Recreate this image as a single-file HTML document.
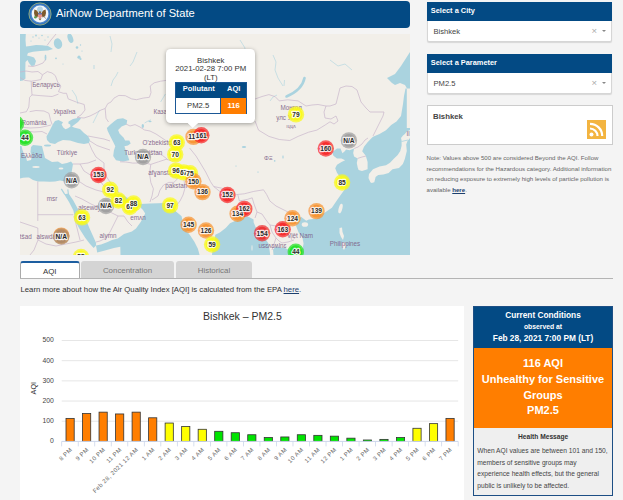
<!DOCTYPE html>
<html><head><meta charset="utf-8">
<style>
*{box-sizing:border-box;margin:0;padding:0}
html,body{width:623px;height:500px;overflow:hidden}
body{background:#f4f4f4;position:relative;font-family:"Liberation Sans",sans-serif;color:#333}
.abs{position:absolute}
#hdr{left:20px;top:1px;width:390px;height:27px;background:#034a84;border-radius:4px}
#hdr .t{position:absolute;left:36px;top:5.5px;font-size:11.15px;color:#fff;white-space:nowrap;line-height:13px}
#map{left:20px;top:34px;width:390px;height:221px;overflow:hidden;background:#f2efe9}
.sel{left:427px;width:185px;background:#fff;border:1px solid #d6d6d6;border-radius:2px;box-shadow:0 1px 1px rgba(0,0,0,.12)}
.sel .h{background:#034a84;color:#fff;font-weight:bold;font-size:7.4px;height:19px;line-height:18px;padding-left:3.8px;white-space:nowrap;margin:-1px -1px 0 -1px}
.sel .v{font-size:7.6px;color:#444;height:20px;line-height:21px;padding-left:5.5px;position:relative;white-space:nowrap}
.sel .x{position:absolute;right:14px;top:-1px;color:#aaa;font-size:9.5px}
.sel .ar{position:absolute;right:5.5px;top:9px;width:0;height:0;border-left:2.3px solid transparent;border-right:2.3px solid transparent;border-top:2.3px solid #888}
#rss{left:427px;top:105px;width:186px;height:40px;background:#fff;border:1px solid #ccc}
#note{left:426.5px;top:153px;width:190px;font-size:6.1px;line-height:10.7px;color:#666;}
#note b{color:#1c3f6e;text-decoration:underline}
.tab{top:261px;height:17px;font-size:7.9px;line-height:20.5px;text-align:center;color:#777;background:#d4d4d4;border-radius:3px 3px 0 0}
#learn{left:20.5px;top:284.8px;font-size:7.75px;color:#333;white-space:nowrap;line-height:10px}
#learn u{color:#1c3f6e}
#chart{left:20px;top:306px;width:444px;height:194px;background:#fff}
#cc{left:473px;top:306px;width:140px;height:190px;border:1px solid #1d4f85;background:#efefef}
#cc .h{background:#034a84;color:#fff;text-align:center;font-weight:bold;height:41px}
#cc .o{background:#ff7e00;color:#fff;text-align:center;font-weight:bold;font-size:11px;line-height:15.8px;height:80px;padding-top:8px}
#cc .hm{font-size:6.65px;color:#444;line-height:11.7px;padding:3px 3px 0 3.3px}
#cc .hm div{margin-bottom:2.2px}
</style></head><body>

<div class="abs" id="hdr">
<svg class="abs" style="left:7.5px;top:1.4px" width="24" height="24" viewBox="-12 -12 24 24">
<circle r="11.1" fill="#3573bd" stroke="#aab873" stroke-width="0.8"/>
<circle r="9.6" fill="#4c88cc"/>
<circle r="8.4" fill="#f4f6f8"/>
<circle cx="0" cy="-4.6" r="2.9" fill="#b3d2e4"/>
<path d="M-1.2,-0.8 L-3.2,-3.6 L-5.6,-4.4 L-6,-1 L-5.2,2.2 L-2.6,3.6 Z" fill="#7d5a2c"/>
<path d="M1.2,-0.8 L3.2,-3.6 L5.6,-4.4 L6,-1 L5.2,2.2 L2.6,3.6 Z" fill="#7d5a2c"/>
<path d="M-1.9,-0.6 h3.8 v2.8 c0,1.3 -1.9,2.2 -1.9,2.2 c0,0 -1.9,-0.9 -1.9,-2.2 Z" fill="#e58b84"/>
<rect x="-1.9" y="-0.8" width="3.8" height="1.2" fill="#4565ad"/>
<circle cx="0" cy="-1.8" r="0.9" fill="#6b4a22"/>
<path d="M-1.6,4.5 L1.6,4.5 L0,6.6 Z" fill="#7d5a2c"/>
<circle cx="-4.6" cy="3.2" r="1.3" fill="#5f9c4f"/>
<path d="M3.6,2.6 L6,4.6" stroke="#8c8c8c" stroke-width="0.8"/>
</svg>
<div class="t">AirNow Department of State</div>
</div>

<div class="abs" id="map"><svg class="abs" style="left:0;top:0" width="390" height="221" viewBox="20 34 390 221">
<rect x="20" y="34" width="390" height="221" fill="#f2efe9"/>
<path d="M20,34 L25.8,34 L25.5,40 L26,46.5 L30,46 L36,45 L42,45.3 L48,46 L53,49 L48,50.5 L40,51 L33,51.8 L28,53 L27,55.5 L31,56.5 L34,57.5 L36,61 L34.5,65.5 L31.5,66 L29,63 L27.5,60 L25.5,62 L25.3,70 L25.5,78.5 L23,80.5 L20,81 Z" fill="#aad3df" />
<ellipse cx="58" cy="43.6" rx="4.1" ry="5.4" fill="#aad3df" transform="rotate(-15 58 43.6)"/>
<ellipse cx="70.4" cy="38.3" rx="2.6" ry="4.8" fill="#aad3df" transform="rotate(-20 70.4 38.3)"/>
<ellipse cx="45.5" cy="57.5" rx="0.9" ry="3" fill="#aad3df"/>
<circle cx="77" cy="47.5" r="1.3" fill="#aad3df"/>
<circle cx="79" cy="57.2" r="1.6" fill="#aad3df"/>
<circle cx="80.5" cy="59" r="1.1" fill="#aad3df"/>
<circle cx="56" cy="58.3" r="0.9" fill="#aad3df"/>
<circle cx="80.5" cy="45" r="0.7" fill="#aad3df"/>
<circle cx="82" cy="51" r="0.6" fill="#aad3df"/>
<circle cx="33" cy="37" r="0.7" fill="#aad3df"/>
<circle cx="36" cy="35.5" r="0.9" fill="#aad3df"/>
<circle cx="39" cy="38" r="0.6" fill="#aad3df"/>
<circle cx="42" cy="35.5" r="0.8" fill="#aad3df"/>
<circle cx="45" cy="40" r="0.6" fill="#aad3df"/>
<circle cx="48" cy="37" r="0.7" fill="#aad3df"/>
<circle cx="31" cy="41" r="0.6" fill="#aad3df"/>
<circle cx="94" cy="66" r="0.7" fill="#aad3df"/>
<circle cx="94" cy="68" r="0.7" fill="#aad3df"/>
<circle cx="63" cy="64" r="0.5" fill="#aad3df"/>
<path d="M55,121 L58.5,120 L61,121.3 L63,122.2 L61.6,124.5 L63.3,127.5 L65.5,129.2 L68,128.2 L70.5,126.6 L70.2,124.6 L68.3,123.6 L68.6,121.6 L73,119 L80,117.5 L81,118.5 L78,122 L74,125 L72,126.6 L74,127.5 L80,129 L84,133 L88,136 L90,140 L89,143 L84,144 L78,143 L70,140.5 L63,140 L58,142 L55,144 L50,143 L47,140 L46.5,136.5 L49,132 L51,128 L53,124 Z" fill="#aad3df" />
<path d="M117.4,118.9 L123,118.2 L127.2,120.3 L126.5,124.5 L121.6,126.6 L118.1,130.1 L119.5,133.6 L123.7,137.8 L125.1,140.6 L129.3,140.6 L130.7,143.4 L127.9,145.5 L124.4,146.2 L125.8,150.4 L127.9,156 L129.3,160.2 L123,161.6 L116,160.2 L113.2,156 L113.9,150.4 L115.3,146.2 L113.2,142 L110.4,136.4 L107.6,130.8 L106.9,128 L110.4,124.5 L114.6,121 Z" fill="#aad3df" />
<ellipse cx="47.5" cy="145.5" rx="3.5" ry="1.1" fill="#aad3df"/>
<path d="M20,146 L21.5,146 L22.5,150 L24,154 L26,157 L27,161 L31,160 L32,156 L30.5,152 L31,147 L33,145 L38,145.5 L42,146 L43,150 L45,158 L52,162 L58,161.5 L62,164 L67,163 L71,161.5 L73,164 L72,170 L71,176 L68,181 L65,181.5 L60,180.5 L55,181.5 L50,181.8 L44,181.5 L38,181.5 L33,179.9 L29,177.5 L26.5,177.4 L23,177.7 L20,178.5 Z" fill="#aad3df" />
<path d="M64.2,194.2 L68.6,193.6 L73,200 L77.5,208.2 L81,213.5 L84.8,218.7 L87.5,223.5 L89.6,228.4 L93,236 L96.1,243 L96,245.5 L93.7,247.9 L90,244 L88,241.4 L85,237.5 L82.3,233.3 L79,228 L76.7,223.6 L74.5,216 L73.4,210.6 L69,202 Z" fill="#aad3df" />
<path d="M61.3,188.8 L64.8,194.5" stroke="#aad3df" stroke-width="1.3" fill="none"/>
<path d="M67.8,189.4 L68.4,194" stroke="#aad3df" stroke-width="1.1" fill="none"/>
<path d="M117,194.5 L121,194 L126,197 L131,200 L136,202.5 L139.5,204 L140,206.5 L136,207.5 L131,207 L126,204.5 L121,200 Z" fill="#aad3df" />
<path d="M139.5,204 L145,203.8 L150,203.5 L158,203.2 L165.4,202.9 L170,205 L174,207.5 L176,211.6 L179,214 L181.6,216.2 L183.9,227.9 L189.7,234.8 L194.4,241.8 L197.9,248.7 L199.6,255 L120.5,255 L120.3,246.8 L113.9,248.1 L105,250.5 L97.2,252.6 L96,245.5 L101,244.5 L107,242.2 L112,240 L117.8,238.5 L124,234 L131.9,231.4 L136,228.5 L140.7,222 L145.2,213.5 L143,210 L141,208 Z" fill="#aad3df" />
<path d="M212,255 L212.5,250 L214,243 L215.3,234.8 L219.9,232.5 L225.7,227.9 L230,223.2 L236,220.5 L241,219 L245,216.6 L249,217 L253.6,219.5 L253.6,222.3 L256,228 L257.9,233.9 L261,236 L265.1,238.2 L268.8,244 L270.2,255 Z" fill="#aad3df" />
<path d="M273.5,255 L273,249.5 L276,246.5 L280,247.5 L285,248 L289,250 L292,252.5 L294,255 Z" fill="#aad3df" />
<path d="M298.5,255 L298.5,251.5 L302.4,248.9 L303.6,243.8 L302.4,237.4 L298.5,232.2 L296,225.8 L297.2,220.7 L301,216.8 L306.2,220.7 L308.8,219.4 L316.5,218.7 L324.2,213 L331.9,207.8 L338,198.8 L344.8,189.3 L346,184 L342,181 L340,177 L337,172.8 L335.2,168.3 L337,164.7 L341.5,162 L345.1,160.2 L341.5,158.4 L337,158.4 L333.4,155.7 L332.5,153 L333.4,151.2 L337,148.5 L340.6,148.5 L341.5,151 L342.5,153.2 L345,151 L346,149.4 L349.6,150.3 L354.1,148.5 L353.2,153 L354.1,156.6 L357.7,158.4 L356.8,162.9 L357.7,167.4 L358.6,170.1 L362,171 L367.6,169.2 L367.6,162 L365.8,155.7 L362.2,151.2 L364,146.7 L367.6,142.2 L371.2,138.6 L373,136.7 L379.5,134.1 L386,130.2 L391.2,125 L396.5,121.6 L401,116 L403,104 L404,96 L405.5,88.5 L406.8,88.5 L406.8,128 L410,128 L410,255 Z" fill="#aad3df" />
<path d="M410,52 L401,66 L395,74 L387,78 L389,80 L392,83 L395,85 L400,83 L405,85 L407,88.5 L410,88.5 Z" fill="#aad3df" />
<path d="M304.5,78 C303,86 297,92 286.5,96.5" stroke="#aad3df" stroke-width="2.6" fill="none" stroke-linecap="round"/>
<ellipse cx="142.8" cy="126" rx="1.2" ry="2" fill="#aad3df"/>
<ellipse cx="150" cy="121.5" rx="1.6" ry="0.8" fill="#aad3df"/>
<ellipse cx="193" cy="120" rx="1.2" ry="0.6" fill="#aad3df"/>
<ellipse cx="236" cy="87" rx="0.6" ry="1.5" fill="#aad3df"/>
<ellipse cx="239" cy="75" rx="1.2" ry="0.6" fill="#aad3df"/>
<ellipse cx="237.5" cy="80" rx="0.5" ry="1.4" fill="#aad3df"/>
<ellipse cx="283" cy="157" rx="0.6" ry="1.8" fill="#aad3df"/>
<path d="M118,72 L116,76 L113,80 L111,86" stroke="#aad3df" stroke-width="0.7" fill="none" opacity="0.85"/>
<path d="M137,52 L135,57 L133,62 L130,66" stroke="#aad3df" stroke-width="0.7" fill="none" opacity="0.85"/>
<path d="M99.6,110 L97,115 L95,119 L93,123" stroke="#aad3df" stroke-width="0.7" fill="none" opacity="0.85"/>
<path d="M165.4,94 L163,98 L160.6,102" stroke="#aad3df" stroke-width="0.7" fill="none" opacity="0.85"/>
<path d="M144.6,123 L148,121 L151,119.8" stroke="#aad3df" stroke-width="0.7" fill="none" opacity="0.85"/>
<path d="M284.5,80 L284,86" stroke="#aad3df" stroke-width="0.7" fill="none" opacity="0.85"/>
<path d="M270,101 L273,97 L277,95" stroke="#aad3df" stroke-width="0.7" fill="none" opacity="0.85"/>
<path d="M273,55 L276,62 L275,70 L278,78 L283,86" stroke="#aad3df" stroke-width="0.7" fill="none" opacity="0.85"/>
<path d="M110,36 L112,44 L111,52" stroke="#aad3df" stroke-width="0.7" fill="none" opacity="0.85"/>
<path d="M240,40 L245,48 L243,58 L246,66" stroke="#aad3df" stroke-width="0.7" fill="none" opacity="0.85"/>
<path d="M200,60 L205,68 L203,76" stroke="#aad3df" stroke-width="0.7" fill="none" opacity="0.85"/>
<path d="M330,60 L338,66 L345,64 L352,70" stroke="#aad3df" stroke-width="0.7" fill="none" opacity="0.85"/>
<path d="M72,90 L76,96 L78,104" stroke="#aad3df" stroke-width="0.7" fill="none" opacity="0.85"/>
<ellipse cx="244" cy="147" rx="2.2" ry="0.9" fill="#aad3df"/>
<ellipse cx="274.7" cy="160.9" rx="0.8" ry="0.8" fill="#aad3df"/>
<ellipse cx="258" cy="172" rx="0.8" ry="0.5" fill="#aad3df"/>
<ellipse cx="236" cy="166" rx="0.7" ry="0.5" fill="#aad3df"/>
<ellipse cx="36" cy="167" rx="3.6" ry="0.9" fill="#f2efe9"/>
<ellipse cx="61" cy="168.5" rx="2.4" ry="0.9" fill="#f2efe9"/>
<path d="M370.4,182.2 L368.5,178 L369,174 L373,169.2 L379.5,166.6 L386,165.3 L390,162.7 L393.8,158.8 L397.7,154.9 L400.3,151 L401.6,145.8 L401.6,140.6 L401,138 L403,135.4 L404.9,134.1 L406.8,131.5 L410,130 L410,138 L407.5,141 L406.2,144.5 L406.8,151 L404.9,158.8 L402.9,164 L399,167.9 L392.5,169.2 L388.6,173.1 L383.4,174.4 L378.2,175 L375.6,177 L374.3,182.2 L371.7,182.9 Z" fill="#f2efe9" />
<path d="M401.5,141.5 L408,140" stroke="#aad3df" stroke-width="0.8"/>
<ellipse cx="340.5" cy="208.5" rx="1.8" ry="5" fill="#f2efe9" transform="rotate(15 340.5 208.5)"/>
<ellipse cx="304.9" cy="224.5" rx="3.2" ry="2.3" fill="#f2efe9"/>
<path d="M339.5,228 L342,227.5 L342.5,232 L344,236 L343,240 L341,237 L339.5,233 Z" fill="#f2efe9" />
<path d="M342,243 L345,242 L346,246 L344,250 L342,247 Z" fill="#f2efe9" />
<ellipse cx="252" cy="248" rx="0.5" ry="3" fill="#f2efe9"/>
<g stroke="#c9b6cc" stroke-width="0.7" fill="none" stroke-linejoin="round">
<path d="M56,34 L51,40 L47,45.5"/>
<path d="M20,72 L26,71 L32,72 L38,71.5 L42.5,74.8"/>
<path d="M45.5,59.5 L43,63 L38,65 L33,66.5 L28,66"/>
<path d="M20,77.5 L24.8,80.4 L31.2,81.2"/>
<path d="M31.2,81.2 L36,80.5 L40.9,79.6 L42.5,74.8 L47.3,71.6 L52,73 L55.3,75.6 L57.7,82 L60.9,86 L58.5,91.7 L63.3,93.3 L66.5,93.3"/>
<path d="M31.2,81.2 L31.5,88 L32,94.9 L40.9,95.7 L52.1,96.5 L58.5,94.1"/>
<path d="M66.5,93.3 L68.2,98.9 L76.2,102 L84.2,104.5 L85,110 L81,115 L77,117.4"/>
<path d="M32,94.9 L29.6,97.3 L28.8,107 L26.4,111.7 L20,113"/>
<path d="M29.6,111.7 L36,110.5 L44,111 L48.9,113.3 L50.5,119.8 L52.1,124.6"/>
<path d="M20,127 L30,128 L40,127.5 L47,126 L51,125"/>
<path d="M20,133 L26,131 L34,132 L42,131.5 L47,134"/>
<path d="M77,117.4 L84,118 L90,116 L96,113 L101,110 L105.2,108.5 L107.7,103.7 L110.9,102.1 L114,98.1 L118.9,95.4 L125.3,95.7 L131.7,98.9 L136.5,99.7 L143,98.1 L149.4,97.3 L151,92.5 L150.2,86 L154.2,82.8 L160.6,81.2 L166,80.4"/>
<path d="M105.2,108.5 L106,118.2 L108.5,122"/>
<path d="M255,99 L262,96.5 L268.9,94.6 L275.2,96.7 L279.3,100.9 L287.7,99.8 L298.1,100.9 L306,106 L312,105 L318,104.5 L326,106"/>
<path d="M326,106 L330,106 L336,104 L338,96 L340,88 L346,86 L352,86.5 L357,90 L359,96 L361,102 L366,108 L370,112 L377,112 L384,112 L383,116 L381,120 L378,126 L376,130 L373,136"/>
<path d="M326,106 L324,112 L325,118 L331,119 L336,116 L338,121 L334,124"/>
<path d="M255,121 L258.5,130.1 L268.9,136.4 L279.3,139.5 L289.8,140.5 L298.1,136.4 L308.6,132.2 L316.9,130.1 L325.3,124.9 L330,121.8 L334,124"/>
<path d="M88,136 L96,137.5 L104,139 L110,141"/>
<path d="M90,141 L97,145.5 L104,148 L110,150"/>
<path d="M89,143 L92,150 L96,157 L100,160 L104,163"/>
<path d="M73,164 L80,164 L88,163 L96,160"/>
<path d="M80,164 L84,171 L92,176 L100,181 L104,186 L110,190 L116,193"/>
<path d="M104,163 L104,170 L106,176 L110,182 L116,188 L119,193"/>
<path d="M71,176 L77,180 L86,186 L96,190 L104,192 L112,195"/>
<path d="M126,124 L130,126 L135,124.6 L140,127 L144.6,130 L150,131 L156,134"/>
<path d="M120,161.8 L126,162 L132.8,163.1 L138,163 L143.1,162.5 L150.8,164.4"/>
<path d="M150.8,164.4 L149.5,173.4 L150.8,182.4 L153.4,188.8 L152,196 L150,202"/>
<path d="M150.8,150.3 L156,152 L162.4,155.4 L167.5,159.3"/>
<path d="M150.8,164.4 L158.5,161.8 L166.2,159.3 L171.3,160.5"/>
<path d="M171.3,176 L177.8,178.5 L173.9,182.4 L168.8,182.4 L163.6,185 L160,190 L158,196 L152,200"/>
<path d="M156,134 L162,138 L168,142 L172,140"/>
<path d="M189.6,148 L196,156 L200.9,164 L205.7,172 L210.5,181.7 L213.7,186.5 L221.7,188.2 L231.4,191.4 L236.2,194.6 L244.2,193.8 L253.8,191.4 L263.5,189.8 L266.7,194.6 L269.9,201"/>
<path d="M213.7,186.5 L221.7,193 L236.2,196.2"/>
<path d="M237.8,194.6 L239.4,201 L247.4,199.4 L252.2,197.8"/>
<path d="M184,180 L185,188 L183,195 L180,201 L176,206"/>
<path d="M252.2,197.8 L254,204 L257,212 L255,218"/>
<path d="M257,212 L262,214 L266,220 L270,225 L272,232 L276,238 L279,241 L282,243 L288,242 L294,240"/>
<path d="M269.9,201 L276,206 L282,209 L288,212 L294,216 L298,219"/>
<path d="M270,225 L276,226 L282,228 L286,232 L290,236 L292,240"/>
<path d="M276,238 L274,244 L272,250"/>
<path d="M354.1,148.5 L358,147 L362,144 L365,140 L368,138"/>
<path d="M357.7,158.4 L362,157 L366,156"/>
<path d="M37.8,181.5 L37.8,221"/>
<path d="M37.8,214.7 L73.4,214.7"/>
<path d="M20,222 L37.8,228 L38,240 L34,250 L30,255"/>
<path d="M38,240 L46,244 L56,246 L66,244 L76,242 L84,240"/>
<path d="M74,216 L76,224 L78,232 L80,240"/>
<path d="M75,196 L82,199 L91,204 L100,208 L110,212"/>
<path d="M110,212 L118,216 L124,216 L128,222 L132,226"/>
<path d="M118,216 L114,224 L110,232 L106,238 L100,241 L96,242"/>
</g>
<g fill="#7d5f87" font-family="Liberation Sans" text-anchor="middle" opacity="0.9">
<text x="46" y="87" font-size="6.3" text-anchor="middle">Беларусь</text>
<text x="64.5" y="113.5" font-size="6.3" text-anchor="middle">Україна</text>
<text x="34" y="124.5" font-size="6.3" text-anchor="middle">România</text>
<text x="31.5" y="157.5" font-size="6.3" text-anchor="middle">Ελλάδα</text>
<text x="67" y="154.5" font-size="6.3" text-anchor="middle">Türkiye</text>
<text x="52" y="200.5" font-size="6.3" text-anchor="middle">msr</text>
<text x="48" y="239" font-size="6.3" text-anchor="middle">alswdan</text>
<text x="25.7" y="239" font-size="6.3" text-anchor="middle">tšad</text>
<text x="91.3" y="210" font-size="6.3" text-anchor="middle">alsewdyh</text>
<text x="108" y="237.5" font-size="6.3" text-anchor="middle">alymn</text>
<text x="138" y="219.5" font-size="6.3" text-anchor="middle">emʌn</text>
<text x="143.2" y="154.8" font-size="6.3" text-anchor="middle">Turkmenistan</text>
<text x="142.5" y="144.6" font-size="6.3" text-anchor="start">O'zbekiston</text>
<text x="153.5" y="113.6" font-size="6.3" text-anchor="start">Казахстан</text>
<text x="176.2" y="187.6" font-size="6.3" text-anchor="middle">pakstan</text>
<text x="162" y="175.4" font-size="6.3" text-anchor="middle">afɣanstan</text>
<text x="268.3" y="159.8" font-size="6" text-anchor="middle">ΦΞ</text>
<text x="280.4" y="110.2" font-size="6.3" text-anchor="start">Монгол</text>
<text x="276.2" y="120.2" font-size="6.3" text-anchor="start">улс Улс</text>
<text x="291" y="128" font-size="5" text-anchor="middle">ıɥɥʌ</text>
<text x="300" y="238" font-size="6.3" text-anchor="middle">Việt Nam</text>
<text x="272.5" y="247.5" font-size="6.3" text-anchor="middle">usɛʌɛʍlnɛ</text>
<text x="345" y="246" font-size="6.3" text-anchor="middle">Philippines</text>
<text x="408" y="136" font-size="6.3" text-anchor="middle">Il</text>
</g>
<circle cx="16" cy="124" r="8.2" fill="#1ee21e" fill-opacity="0.7"/>
<circle cx="16" cy="124" r="6.4" fill="#1ee21e" fill-opacity="0.8"/>
<circle cx="25" cy="137.7" r="8.2" fill="#1ee21e" fill-opacity="0.7"/>
<circle cx="25" cy="137.7" r="6.4" fill="#1ee21e" fill-opacity="0.8"/>
<circle cx="71.6" cy="180.3" r="8.2" fill="#9c9c9c" fill-opacity="0.7"/>
<circle cx="71.6" cy="180.3" r="6.4" fill="#9c9c9c" fill-opacity="0.8"/>
<circle cx="98.5" cy="175" r="8.2" fill="#f82222" fill-opacity="0.7"/>
<circle cx="98.5" cy="175" r="6.4" fill="#f82222" fill-opacity="0.8"/>
<circle cx="110.2" cy="189.8" r="8.2" fill="#fbfb10" fill-opacity="0.7"/>
<circle cx="110.2" cy="189.8" r="6.4" fill="#fbfb10" fill-opacity="0.8"/>
<circle cx="106" cy="206" r="8.2" fill="#9c9c9c" fill-opacity="0.7"/>
<circle cx="106" cy="206" r="6.4" fill="#9c9c9c" fill-opacity="0.8"/>
<circle cx="118.5" cy="200.5" r="8.2" fill="#fbfb10" fill-opacity="0.7"/>
<circle cx="118.5" cy="200.5" r="6.4" fill="#fbfb10" fill-opacity="0.8"/>
<circle cx="82" cy="217.4" r="8.2" fill="#fbfb10" fill-opacity="0.7"/>
<circle cx="82" cy="217.4" r="6.4" fill="#fbfb10" fill-opacity="0.8"/>
<circle cx="61.3" cy="235.6" r="8.2" fill="#f8912c" fill-opacity="0.7"/>
<circle cx="61.3" cy="235.6" r="6.4" fill="#f8912c" fill-opacity="0.8"/>
<circle cx="61.3" cy="236.5" r="8.2" fill="#ad8a6a" fill-opacity="0.7"/>
<circle cx="61.3" cy="236.5" r="6.4" fill="#ad8a6a" fill-opacity="0.8"/>
<circle cx="81" cy="257" r="8.2" fill="#fbfb10" fill-opacity="0.7"/>
<circle cx="81" cy="257" r="6.4" fill="#fbfb10" fill-opacity="0.8"/>
<circle cx="129.8" cy="207" r="8.2" fill="#fbfb10" fill-opacity="0.7"/>
<circle cx="129.8" cy="207" r="6.4" fill="#fbfb10" fill-opacity="0.8"/>
<circle cx="133.6" cy="203.5" r="8.2" fill="#fbfb10" fill-opacity="0.7"/>
<circle cx="133.6" cy="203.5" r="6.4" fill="#fbfb10" fill-opacity="0.8"/>
<circle cx="143" cy="157" r="8.2" fill="#9c9c9c" fill-opacity="0.7"/>
<circle cx="143" cy="157" r="6.4" fill="#9c9c9c" fill-opacity="0.8"/>
<circle cx="176.8" cy="142.4" r="8.2" fill="#fbfb10" fill-opacity="0.7"/>
<circle cx="176.8" cy="142.4" r="6.4" fill="#fbfb10" fill-opacity="0.8"/>
<circle cx="175.2" cy="154.4" r="8.2" fill="#fbfb10" fill-opacity="0.7"/>
<circle cx="175.2" cy="154.4" r="6.4" fill="#fbfb10" fill-opacity="0.8"/>
<circle cx="183.6" cy="172.4" r="8.2" fill="#fbfb10" fill-opacity="0.7"/>
<circle cx="183.6" cy="172.4" r="6.4" fill="#fbfb10" fill-opacity="0.8"/>
<circle cx="176" cy="170.6" r="8.2" fill="#fbfb10" fill-opacity="0.7"/>
<circle cx="176" cy="170.6" r="6.4" fill="#fbfb10" fill-opacity="0.8"/>
<circle cx="190" cy="173.2" r="8.2" fill="#fbfb10" fill-opacity="0.7"/>
<circle cx="190" cy="173.2" r="6.4" fill="#fbfb10" fill-opacity="0.8"/>
<circle cx="193.4" cy="181.3" r="8.2" fill="#f8912c" fill-opacity="0.7"/>
<circle cx="193.4" cy="181.3" r="6.4" fill="#f8912c" fill-opacity="0.8"/>
<circle cx="202.5" cy="192.1" r="8.2" fill="#f8912c" fill-opacity="0.7"/>
<circle cx="202.5" cy="192.1" r="6.4" fill="#f8912c" fill-opacity="0.8"/>
<circle cx="170.1" cy="205.4" r="8.2" fill="#fbfb10" fill-opacity="0.7"/>
<circle cx="170.1" cy="205.4" r="6.4" fill="#fbfb10" fill-opacity="0.8"/>
<circle cx="188.6" cy="224.7" r="8.2" fill="#f8912c" fill-opacity="0.7"/>
<circle cx="188.6" cy="224.7" r="6.4" fill="#f8912c" fill-opacity="0.8"/>
<circle cx="206" cy="230.5" r="8.2" fill="#f8912c" fill-opacity="0.7"/>
<circle cx="206" cy="230.5" r="6.4" fill="#f8912c" fill-opacity="0.8"/>
<circle cx="212.1" cy="244.5" r="8.2" fill="#fbfb10" fill-opacity="0.7"/>
<circle cx="212.1" cy="244.5" r="6.4" fill="#fbfb10" fill-opacity="0.8"/>
<circle cx="193.5" cy="136.9" r="8.2" fill="#f8912c" fill-opacity="0.7"/>
<circle cx="193.5" cy="136.9" r="6.4" fill="#f8912c" fill-opacity="0.8"/>
<circle cx="201.3" cy="135.3" r="8.2" fill="#f82222" fill-opacity="0.7"/>
<circle cx="201.3" cy="135.3" r="6.4" fill="#f82222" fill-opacity="0.8"/>
<circle cx="227.4" cy="195" r="8.2" fill="#f82222" fill-opacity="0.7"/>
<circle cx="227.4" cy="195" r="6.4" fill="#f82222" fill-opacity="0.8"/>
<circle cx="237.6" cy="213.7" r="8.2" fill="#f8912c" fill-opacity="0.7"/>
<circle cx="237.6" cy="213.7" r="6.4" fill="#f8912c" fill-opacity="0.8"/>
<circle cx="244.3" cy="208.9" r="8.2" fill="#f82222" fill-opacity="0.7"/>
<circle cx="244.3" cy="208.9" r="6.4" fill="#f82222" fill-opacity="0.8"/>
<circle cx="262.1" cy="233.2" r="8.2" fill="#ec2a2a" fill-opacity="0.7"/>
<circle cx="262.1" cy="233.2" r="6.4" fill="#ec2a2a" fill-opacity="0.8"/>
<circle cx="282.7" cy="229.2" r="8.2" fill="#f82222" fill-opacity="0.7"/>
<circle cx="282.7" cy="229.2" r="6.4" fill="#f82222" fill-opacity="0.8"/>
<circle cx="292.5" cy="218.2" r="8.2" fill="#f8912c" fill-opacity="0.7"/>
<circle cx="292.5" cy="218.2" r="6.4" fill="#f8912c" fill-opacity="0.8"/>
<circle cx="316.5" cy="211.1" r="8.2" fill="#f8912c" fill-opacity="0.7"/>
<circle cx="316.5" cy="211.1" r="6.4" fill="#f8912c" fill-opacity="0.8"/>
<circle cx="295.8" cy="251.7" r="8.2" fill="#1ee21e" fill-opacity="0.7"/>
<circle cx="295.8" cy="251.7" r="6.4" fill="#1ee21e" fill-opacity="0.8"/>
<circle cx="296" cy="114.4" r="8.2" fill="#fbfb10" fill-opacity="0.7"/>
<circle cx="296" cy="114.4" r="6.4" fill="#fbfb10" fill-opacity="0.8"/>
<circle cx="325.8" cy="148.5" r="8.2" fill="#f82222" fill-opacity="0.7"/>
<circle cx="325.8" cy="148.5" r="6.4" fill="#f82222" fill-opacity="0.8"/>
<circle cx="348.9" cy="140.4" r="8.2" fill="#9c9c9c" fill-opacity="0.7"/>
<circle cx="348.9" cy="140.4" r="6.4" fill="#9c9c9c" fill-opacity="0.8"/>
<circle cx="342.1" cy="182.5" r="8.2" fill="#fbfb10" fill-opacity="0.7"/>
<circle cx="342.1" cy="182.5" r="6.4" fill="#fbfb10" fill-opacity="0.8"/>
<text x="25" y="140.0" font-size="6.6" font-weight="bold" text-anchor="middle" font-family="Liberation Sans" fill="#2a2a2a" stroke="#fff" stroke-width="2.3" stroke-opacity="0.85" stroke-linejoin="round" paint-order="stroke">44</text>
<text x="71.6" y="182.60000000000002" font-size="6.6" font-weight="bold" text-anchor="middle" font-family="Liberation Sans" fill="#2a2a2a" stroke="#fff" stroke-width="2.3" stroke-opacity="0.85" stroke-linejoin="round" paint-order="stroke">N/A</text>
<text x="98.5" y="177.3" font-size="6.6" font-weight="bold" text-anchor="middle" font-family="Liberation Sans" fill="#2a2a2a" stroke="#fff" stroke-width="2.3" stroke-opacity="0.85" stroke-linejoin="round" paint-order="stroke">153</text>
<text x="110.2" y="192.10000000000002" font-size="6.6" font-weight="bold" text-anchor="middle" font-family="Liberation Sans" fill="#2a2a2a" stroke="#fff" stroke-width="2.3" stroke-opacity="0.85" stroke-linejoin="round" paint-order="stroke">92</text>
<text x="106" y="208.3" font-size="6.6" font-weight="bold" text-anchor="middle" font-family="Liberation Sans" fill="#2a2a2a" stroke="#fff" stroke-width="2.3" stroke-opacity="0.85" stroke-linejoin="round" paint-order="stroke">N/A</text>
<text x="118.5" y="202.8" font-size="6.6" font-weight="bold" text-anchor="middle" font-family="Liberation Sans" fill="#2a2a2a" stroke="#fff" stroke-width="2.3" stroke-opacity="0.85" stroke-linejoin="round" paint-order="stroke">82</text>
<text x="82" y="219.70000000000002" font-size="6.6" font-weight="bold" text-anchor="middle" font-family="Liberation Sans" fill="#2a2a2a" stroke="#fff" stroke-width="2.3" stroke-opacity="0.85" stroke-linejoin="round" paint-order="stroke">63</text>
<text x="61.3" y="238.8" font-size="6.6" font-weight="bold" text-anchor="middle" font-family="Liberation Sans" fill="#2a2a2a" stroke="#fff" stroke-width="2.3" stroke-opacity="0.85" stroke-linejoin="round" paint-order="stroke">N/A</text>
<text x="81" y="259.3" font-size="6.6" font-weight="bold" text-anchor="middle" font-family="Liberation Sans" fill="#2a2a2a" stroke="#fff" stroke-width="2.3" stroke-opacity="0.85" stroke-linejoin="round" paint-order="stroke">55</text>
<text x="129.8" y="209.3" font-size="6.6" font-weight="bold" text-anchor="middle" font-family="Liberation Sans" fill="#2a2a2a" stroke="#fff" stroke-width="2.3" stroke-opacity="0.85" stroke-linejoin="round" paint-order="stroke">67</text>
<text x="133.6" y="205.8" font-size="6.6" font-weight="bold" text-anchor="middle" font-family="Liberation Sans" fill="#2a2a2a" stroke="#fff" stroke-width="2.3" stroke-opacity="0.85" stroke-linejoin="round" paint-order="stroke">88</text>
<text x="143" y="159.3" font-size="6.6" font-weight="bold" text-anchor="middle" font-family="Liberation Sans" fill="#2a2a2a" stroke="#fff" stroke-width="2.3" stroke-opacity="0.85" stroke-linejoin="round" paint-order="stroke">N/A</text>
<text x="176.8" y="144.70000000000002" font-size="6.6" font-weight="bold" text-anchor="middle" font-family="Liberation Sans" fill="#2a2a2a" stroke="#fff" stroke-width="2.3" stroke-opacity="0.85" stroke-linejoin="round" paint-order="stroke">63</text>
<text x="175.2" y="156.70000000000002" font-size="6.6" font-weight="bold" text-anchor="middle" font-family="Liberation Sans" fill="#2a2a2a" stroke="#fff" stroke-width="2.3" stroke-opacity="0.85" stroke-linejoin="round" paint-order="stroke">70</text>
<text x="183.6" y="174.70000000000002" font-size="6.6" font-weight="bold" text-anchor="middle" font-family="Liberation Sans" fill="#2a2a2a" stroke="#fff" stroke-width="2.3" stroke-opacity="0.85" stroke-linejoin="round" paint-order="stroke">67</text>
<text x="176" y="172.9" font-size="6.6" font-weight="bold" text-anchor="middle" font-family="Liberation Sans" fill="#2a2a2a" stroke="#fff" stroke-width="2.3" stroke-opacity="0.85" stroke-linejoin="round" paint-order="stroke">96</text>
<text x="190" y="175.5" font-size="6.6" font-weight="bold" text-anchor="middle" font-family="Liberation Sans" fill="#2a2a2a" stroke="#fff" stroke-width="2.3" stroke-opacity="0.85" stroke-linejoin="round" paint-order="stroke">75</text>
<text x="193.4" y="183.60000000000002" font-size="6.6" font-weight="bold" text-anchor="middle" font-family="Liberation Sans" fill="#2a2a2a" stroke="#fff" stroke-width="2.3" stroke-opacity="0.85" stroke-linejoin="round" paint-order="stroke">150</text>
<text x="202.5" y="194.4" font-size="6.6" font-weight="bold" text-anchor="middle" font-family="Liberation Sans" fill="#2a2a2a" stroke="#fff" stroke-width="2.3" stroke-opacity="0.85" stroke-linejoin="round" paint-order="stroke">136</text>
<text x="170.1" y="207.70000000000002" font-size="6.6" font-weight="bold" text-anchor="middle" font-family="Liberation Sans" fill="#2a2a2a" stroke="#fff" stroke-width="2.3" stroke-opacity="0.85" stroke-linejoin="round" paint-order="stroke">97</text>
<text x="188.6" y="227.0" font-size="6.6" font-weight="bold" text-anchor="middle" font-family="Liberation Sans" fill="#2a2a2a" stroke="#fff" stroke-width="2.3" stroke-opacity="0.85" stroke-linejoin="round" paint-order="stroke">145</text>
<text x="206" y="232.8" font-size="6.6" font-weight="bold" text-anchor="middle" font-family="Liberation Sans" fill="#2a2a2a" stroke="#fff" stroke-width="2.3" stroke-opacity="0.85" stroke-linejoin="round" paint-order="stroke">126</text>
<text x="212.1" y="246.8" font-size="6.6" font-weight="bold" text-anchor="middle" font-family="Liberation Sans" fill="#2a2a2a" stroke="#fff" stroke-width="2.3" stroke-opacity="0.85" stroke-linejoin="round" paint-order="stroke">59</text>
<text x="193.5" y="139.20000000000002" font-size="6.6" font-weight="bold" text-anchor="middle" font-family="Liberation Sans" fill="#2a2a2a" stroke="#fff" stroke-width="2.3" stroke-opacity="0.85" stroke-linejoin="round" paint-order="stroke">116</text>
<text x="201.3" y="137.60000000000002" font-size="6.6" font-weight="bold" text-anchor="middle" font-family="Liberation Sans" fill="#2a2a2a" stroke="#fff" stroke-width="2.3" stroke-opacity="0.85" stroke-linejoin="round" paint-order="stroke">161</text>
<text x="227.4" y="197.3" font-size="6.6" font-weight="bold" text-anchor="middle" font-family="Liberation Sans" fill="#2a2a2a" stroke="#fff" stroke-width="2.3" stroke-opacity="0.85" stroke-linejoin="round" paint-order="stroke">152</text>
<text x="237.6" y="216.0" font-size="6.6" font-weight="bold" text-anchor="middle" font-family="Liberation Sans" fill="#2a2a2a" stroke="#fff" stroke-width="2.3" stroke-opacity="0.85" stroke-linejoin="round" paint-order="stroke">134</text>
<text x="244.3" y="211.20000000000002" font-size="6.6" font-weight="bold" text-anchor="middle" font-family="Liberation Sans" fill="#2a2a2a" stroke="#fff" stroke-width="2.3" stroke-opacity="0.85" stroke-linejoin="round" paint-order="stroke">162</text>
<text x="262.1" y="235.5" font-size="6.6" font-weight="bold" text-anchor="middle" font-family="Liberation Sans" fill="#2a2a2a" stroke="#fff" stroke-width="2.3" stroke-opacity="0.85" stroke-linejoin="round" paint-order="stroke">154</text>
<text x="282.7" y="231.5" font-size="6.6" font-weight="bold" text-anchor="middle" font-family="Liberation Sans" fill="#2a2a2a" stroke="#fff" stroke-width="2.3" stroke-opacity="0.85" stroke-linejoin="round" paint-order="stroke">163</text>
<text x="292.5" y="220.5" font-size="6.6" font-weight="bold" text-anchor="middle" font-family="Liberation Sans" fill="#2a2a2a" stroke="#fff" stroke-width="2.3" stroke-opacity="0.85" stroke-linejoin="round" paint-order="stroke">124</text>
<text x="316.5" y="213.4" font-size="6.6" font-weight="bold" text-anchor="middle" font-family="Liberation Sans" fill="#2a2a2a" stroke="#fff" stroke-width="2.3" stroke-opacity="0.85" stroke-linejoin="round" paint-order="stroke">139</text>
<text x="295.8" y="254.0" font-size="6.6" font-weight="bold" text-anchor="middle" font-family="Liberation Sans" fill="#2a2a2a" stroke="#fff" stroke-width="2.3" stroke-opacity="0.85" stroke-linejoin="round" paint-order="stroke">44</text>
<text x="296" y="116.7" font-size="6.6" font-weight="bold" text-anchor="middle" font-family="Liberation Sans" fill="#2a2a2a" stroke="#fff" stroke-width="2.3" stroke-opacity="0.85" stroke-linejoin="round" paint-order="stroke">79</text>
<text x="325.8" y="150.8" font-size="6.6" font-weight="bold" text-anchor="middle" font-family="Liberation Sans" fill="#2a2a2a" stroke="#fff" stroke-width="2.3" stroke-opacity="0.85" stroke-linejoin="round" paint-order="stroke">160</text>
<text x="348.9" y="142.70000000000002" font-size="6.6" font-weight="bold" text-anchor="middle" font-family="Liberation Sans" fill="#2a2a2a" stroke="#fff" stroke-width="2.3" stroke-opacity="0.85" stroke-linejoin="round" paint-order="stroke">N/A</text>
<text x="342.1" y="184.8" font-size="6.6" font-weight="bold" text-anchor="middle" font-family="Liberation Sans" fill="#2a2a2a" stroke="#fff" stroke-width="2.3" stroke-opacity="0.85" stroke-linejoin="round" paint-order="stroke">85</text>
</svg><div class="abs" id="pop" style="left:146.4px;top:14.7px;width:88.7px;height:74.1px;background:#fff;border-radius:4.5px;box-shadow:0 1px 4px rgba(0,0,0,.35)"></div>
<div class="abs" style="left:169.1px;top:84.9px;width:7.8px;height:7.8px;background:#fff;transform:rotate(45deg);box-shadow:2px 2px 3px rgba(0,0,0,.25);clip-path:polygon(100% 0,100% 100%,0 100%)"></div>
<div class="abs" style="left:146.4px;top:23.1px;width:88.7px;text-align:center;font-size:7.8px;line-height:8.3px;color:#333">Bishkek<br>2021-02-28 7:00 PM<br>(LT)</div>
<div class="abs" style="left:154.9px;top:48px;width:72px;height:32.3px;border:1px solid #1b5896;background:#fff">
<div style="height:15.3px;background:#034a84;color:#fff;font-weight:bold;font-size:7.5px;line-height:12.6px;position:relative"><span class="abs" style="left:0;width:45.7px;text-align:center">Pollutant</span><span class="abs" style="left:45.7px;width:24.3px;text-align:center">AQI</span></div>
<div style="height:15px;position:relative;font-size:7.7px;line-height:15px"><span class="abs" style="left:0;width:45.5px;height:15.3px;text-align:center;color:#333;border-right:1.3px solid #1b5896">PM2.5</span><span class="abs" style="left:45.6px;width:24.4px;top:0;height:15.3px;background:#ff7e00;color:#fff;font-weight:bold;text-align:center;line-height:15px">116</span></div>
</div></div>

<div class="abs sel" style="top:1.5px;height:40px">
<div class="h">Select a City</div>
<div class="v">Bishkek<span class="x">×</span><span class="ar"></span></div>
</div>
<div class="abs sel" style="top:54px;height:40px">
<div class="h">Select a Parameter</div>
<div class="v">PM2.5<span class="x">×</span><span class="ar"></span></div>
</div>

<div class="abs" id="rss">
<div class="abs" style="left:5px;top:6px;font-size:7.8px;font-weight:bold;color:#444">Bishkek</div>
<svg class="abs" style="left:159px;top:14px" width="19" height="19" viewBox="0 0 19 19">
<rect width="19" height="19" fill="#f3b440"/>
<circle cx="4.5" cy="14.5" r="2" fill="#fff"/>
<path d="M3,8.5 A7.5,7.5 0 0 1 10.5,16" stroke="#fff" stroke-width="2.2" fill="none"/>
<path d="M3,3.8 A12.2,12.2 0 0 1 15.2,16" stroke="#fff" stroke-width="2.2" fill="none"/>
</svg>
</div>

<div class="abs" id="note">Note: Values above 500 are considered Beyond the AQI. Follow recommendations for the Hazardous category. Additional information on reducing exposure to extremely high levels of particle pollution is available <b>here</b>.</div>

<div class="abs" style="left:20px;top:278px;width:593px;height:1px;background:#b4b4b4"></div>
<div class="abs tab" style="left:20px;width:59.5px;background:#fff;border:1px solid #aaa;border-top:2px solid #1d5ea0;border-bottom:none;color:#333;height:17px;line-height:18px">AQI</div>
<div class="abs tab" style="left:81px;width:93px">Concentration</div>
<div class="abs tab" style="left:176px;width:76px">Historical</div>

<div class="abs" id="learn">Learn more about how the Air Quality Index [AQI] is calculated from the EPA <u>here</u>.</div>

<div class="abs" id="chart"><svg class="abs" style="left:0;top:0" width="444" height="194" viewBox="20 306 444 194">
<text x="242.5" y="319.6" font-size="10.5" text-anchor="middle" fill="#333" font-family="Liberation Sans">Bishkek – PM2.5</text>
<rect x="61.7" y="420.72" width="396.48" height="1" fill="#e6e6e6"/>
<rect x="61.7" y="400.54" width="396.48" height="1" fill="#e6e6e6"/>
<rect x="61.7" y="380.36" width="396.48" height="1" fill="#e6e6e6"/>
<rect x="61.7" y="360.18" width="396.48" height="1" fill="#e6e6e6"/>
<rect x="61.7" y="340.00" width="396.48" height="1" fill="#e6e6e6"/>
<text x="53.8" y="443.30" font-size="6.8" text-anchor="end" fill="#444" font-family="Liberation Sans">0</text>
<text x="53.8" y="423.12" font-size="6.8" text-anchor="end" fill="#444" font-family="Liberation Sans">100</text>
<text x="53.8" y="402.94" font-size="6.8" text-anchor="end" fill="#444" font-family="Liberation Sans">200</text>
<text x="53.8" y="382.76" font-size="6.8" text-anchor="end" fill="#444" font-family="Liberation Sans">300</text>
<text x="53.8" y="362.58" font-size="6.8" text-anchor="end" fill="#444" font-family="Liberation Sans">400</text>
<text x="53.8" y="342.40" font-size="6.8" text-anchor="end" fill="#444" font-family="Liberation Sans">500</text>
<text x="0" y="0" font-size="7.2" text-anchor="middle" fill="#333" font-family="Liberation Sans" transform="translate(36.2 388.2) rotate(-90)">AQI</text>
<rect x="66.00" y="418.39" width="8.2" height="23.01" fill="#ff7e00" stroke="#333" stroke-width="0.8"/>
<rect x="82.52" y="413.55" width="8.2" height="27.85" fill="#ff7e00" stroke="#333" stroke-width="0.8"/>
<rect x="99.04" y="412.14" width="8.2" height="29.26" fill="#ff7e00" stroke="#333" stroke-width="0.8"/>
<rect x="115.56" y="413.96" width="8.2" height="27.44" fill="#ff7e00" stroke="#333" stroke-width="0.8"/>
<rect x="132.08" y="412.14" width="8.2" height="29.26" fill="#ff7e00" stroke="#333" stroke-width="0.8"/>
<rect x="148.60" y="417.79" width="8.2" height="23.61" fill="#ff7e00" stroke="#333" stroke-width="0.8"/>
<rect x="165.12" y="423.04" width="8.2" height="18.36" fill="#ffff00" stroke="#333" stroke-width="0.8"/>
<rect x="181.64" y="426.47" width="8.2" height="14.93" fill="#ffff00" stroke="#333" stroke-width="0.8"/>
<rect x="198.16" y="429.29" width="8.2" height="12.11" fill="#ffff00" stroke="#333" stroke-width="0.8"/>
<rect x="214.68" y="431.31" width="8.2" height="10.09" fill="#00e400" stroke="#333" stroke-width="0.8"/>
<rect x="231.20" y="432.72" width="8.2" height="8.68" fill="#00e400" stroke="#333" stroke-width="0.8"/>
<rect x="247.72" y="434.74" width="8.2" height="6.66" fill="#00e400" stroke="#333" stroke-width="0.8"/>
<rect x="264.24" y="437.57" width="8.2" height="3.83" fill="#00e400" stroke="#333" stroke-width="0.8"/>
<rect x="280.76" y="436.96" width="8.2" height="4.44" fill="#00e400" stroke="#333" stroke-width="0.8"/>
<rect x="297.28" y="434.74" width="8.2" height="6.66" fill="#00e400" stroke="#333" stroke-width="0.8"/>
<rect x="313.80" y="435.35" width="8.2" height="6.05" fill="#00e400" stroke="#333" stroke-width="0.8"/>
<rect x="330.32" y="436.15" width="8.2" height="5.25" fill="#00e400" stroke="#333" stroke-width="0.8"/>
<rect x="346.84" y="438.17" width="8.2" height="3.23" fill="#00e400" stroke="#333" stroke-width="0.8"/>
<rect x="363.36" y="439.99" width="8.2" height="1.41" fill="#00e400" stroke="#333" stroke-width="0.8"/>
<rect x="379.88" y="439.38" width="8.2" height="2.02" fill="#00e400" stroke="#333" stroke-width="0.8"/>
<rect x="396.40" y="437.57" width="8.2" height="3.83" fill="#00e400" stroke="#333" stroke-width="0.8"/>
<rect x="412.92" y="428.28" width="8.2" height="13.12" fill="#ffff00" stroke="#333" stroke-width="0.8"/>
<rect x="429.44" y="423.64" width="8.2" height="17.76" fill="#ffff00" stroke="#333" stroke-width="0.8"/>
<rect x="445.96" y="418.39" width="8.2" height="23.01" fill="#ff7e00" stroke="#333" stroke-width="0.8"/>
<rect x="61.7" y="440.9" width="396.48" height="1" fill="#ccd6eb"/>
<rect x="61.30" y="441.4" width="0.8" height="5" fill="#ccd6eb"/>
<rect x="77.82" y="441.4" width="0.8" height="5" fill="#ccd6eb"/>
<rect x="94.34" y="441.4" width="0.8" height="5" fill="#ccd6eb"/>
<rect x="110.86" y="441.4" width="0.8" height="5" fill="#ccd6eb"/>
<rect x="127.38" y="441.4" width="0.8" height="5" fill="#ccd6eb"/>
<rect x="143.90" y="441.4" width="0.8" height="5" fill="#ccd6eb"/>
<rect x="160.42" y="441.4" width="0.8" height="5" fill="#ccd6eb"/>
<rect x="176.94" y="441.4" width="0.8" height="5" fill="#ccd6eb"/>
<rect x="193.46" y="441.4" width="0.8" height="5" fill="#ccd6eb"/>
<rect x="209.98" y="441.4" width="0.8" height="5" fill="#ccd6eb"/>
<rect x="226.50" y="441.4" width="0.8" height="5" fill="#ccd6eb"/>
<rect x="243.02" y="441.4" width="0.8" height="5" fill="#ccd6eb"/>
<rect x="259.54" y="441.4" width="0.8" height="5" fill="#ccd6eb"/>
<rect x="276.06" y="441.4" width="0.8" height="5" fill="#ccd6eb"/>
<rect x="292.58" y="441.4" width="0.8" height="5" fill="#ccd6eb"/>
<rect x="309.10" y="441.4" width="0.8" height="5" fill="#ccd6eb"/>
<rect x="325.62" y="441.4" width="0.8" height="5" fill="#ccd6eb"/>
<rect x="342.14" y="441.4" width="0.8" height="5" fill="#ccd6eb"/>
<rect x="358.66" y="441.4" width="0.8" height="5" fill="#ccd6eb"/>
<rect x="375.18" y="441.4" width="0.8" height="5" fill="#ccd6eb"/>
<rect x="391.70" y="441.4" width="0.8" height="5" fill="#ccd6eb"/>
<rect x="408.22" y="441.4" width="0.8" height="5" fill="#ccd6eb"/>
<rect x="424.74" y="441.4" width="0.8" height="5" fill="#ccd6eb"/>
<rect x="441.26" y="441.4" width="0.8" height="5" fill="#ccd6eb"/>
<rect x="457.78" y="441.4" width="0.8" height="5" fill="#ccd6eb"/>
<text x="0" y="0" font-size="6" letter-spacing="0.4" text-anchor="end" fill="#666" font-family="Liberation Sans" transform="translate(72.46 450) rotate(-45)">8 PM</text>
<text x="0" y="0" font-size="6" letter-spacing="0.4" text-anchor="end" fill="#666" font-family="Liberation Sans" transform="translate(88.98 450) rotate(-45)">9 PM</text>
<text x="0" y="0" font-size="6" letter-spacing="0.4" text-anchor="end" fill="#666" font-family="Liberation Sans" transform="translate(105.50 450) rotate(-45)">10 PM</text>
<text x="0" y="0" font-size="6" letter-spacing="0.4" text-anchor="end" fill="#666" font-family="Liberation Sans" transform="translate(122.02 450) rotate(-45)">11 PM</text>
<text x="0" y="0" font-size="6" letter-spacing="0.4" text-anchor="end" fill="#666" font-family="Liberation Sans" transform="translate(138.54 450) rotate(-45)">Feb 28, 2021 12 AM</text>
<text x="0" y="0" font-size="6" letter-spacing="0.4" text-anchor="end" fill="#666" font-family="Liberation Sans" transform="translate(155.06 450) rotate(-45)">1 AM</text>
<text x="0" y="0" font-size="6" letter-spacing="0.4" text-anchor="end" fill="#666" font-family="Liberation Sans" transform="translate(171.58 450) rotate(-45)">2 AM</text>
<text x="0" y="0" font-size="6" letter-spacing="0.4" text-anchor="end" fill="#666" font-family="Liberation Sans" transform="translate(188.10 450) rotate(-45)">3 AM</text>
<text x="0" y="0" font-size="6" letter-spacing="0.4" text-anchor="end" fill="#666" font-family="Liberation Sans" transform="translate(204.62 450) rotate(-45)">4 AM</text>
<text x="0" y="0" font-size="6" letter-spacing="0.4" text-anchor="end" fill="#666" font-family="Liberation Sans" transform="translate(221.14 450) rotate(-45)">5 AM</text>
<text x="0" y="0" font-size="6" letter-spacing="0.4" text-anchor="end" fill="#666" font-family="Liberation Sans" transform="translate(237.66 450) rotate(-45)">6 AM</text>
<text x="0" y="0" font-size="6" letter-spacing="0.4" text-anchor="end" fill="#666" font-family="Liberation Sans" transform="translate(254.18 450) rotate(-45)">7 AM</text>
<text x="0" y="0" font-size="6" letter-spacing="0.4" text-anchor="end" fill="#666" font-family="Liberation Sans" transform="translate(270.70 450) rotate(-45)">8 AM</text>
<text x="0" y="0" font-size="6" letter-spacing="0.4" text-anchor="end" fill="#666" font-family="Liberation Sans" transform="translate(287.22 450) rotate(-45)">9 AM</text>
<text x="0" y="0" font-size="6" letter-spacing="0.4" text-anchor="end" fill="#666" font-family="Liberation Sans" transform="translate(303.74 450) rotate(-45)">10 AM</text>
<text x="0" y="0" font-size="6" letter-spacing="0.4" text-anchor="end" fill="#666" font-family="Liberation Sans" transform="translate(320.26 450) rotate(-45)">11 AM</text>
<text x="0" y="0" font-size="6" letter-spacing="0.4" text-anchor="end" fill="#666" font-family="Liberation Sans" transform="translate(336.78 450) rotate(-45)">12 PM</text>
<text x="0" y="0" font-size="6" letter-spacing="0.4" text-anchor="end" fill="#666" font-family="Liberation Sans" transform="translate(353.30 450) rotate(-45)">1 PM</text>
<text x="0" y="0" font-size="6" letter-spacing="0.4" text-anchor="end" fill="#666" font-family="Liberation Sans" transform="translate(369.82 450) rotate(-45)">2 PM</text>
<text x="0" y="0" font-size="6" letter-spacing="0.4" text-anchor="end" fill="#666" font-family="Liberation Sans" transform="translate(386.34 450) rotate(-45)">3 PM</text>
<text x="0" y="0" font-size="6" letter-spacing="0.4" text-anchor="end" fill="#666" font-family="Liberation Sans" transform="translate(402.86 450) rotate(-45)">4 PM</text>
<text x="0" y="0" font-size="6" letter-spacing="0.4" text-anchor="end" fill="#666" font-family="Liberation Sans" transform="translate(419.38 450) rotate(-45)">5 PM</text>
<text x="0" y="0" font-size="6" letter-spacing="0.4" text-anchor="end" fill="#666" font-family="Liberation Sans" transform="translate(435.90 450) rotate(-45)">6 PM</text>
<text x="0" y="0" font-size="6" letter-spacing="0.4" text-anchor="end" fill="#666" font-family="Liberation Sans" transform="translate(452.42 450) rotate(-45)">7 PM</text>
</svg></div>

<div class="abs" id="cc">
<div class="h"><div style="font-size:8.3px;padding-top:3px;line-height:11px">Current Conditions</div><div style="font-size:6.8px;line-height:10px;margin-top:1.3px">observed at</div><div style="font-size:8.3px;line-height:12px">Feb 28, 2021 7:00 PM (LT)</div></div>
<div class="o">116 AQI<br>Unhealthy for Sensitive<br>Groups<br>PM2.5</div>
<div class="hm"><div style="text-align:center;font-weight:bold;color:#333">Health Message</div>When AQI values are between 101 and 150, members of sensitive groups may experience health effects, but the general public is unlikely to be affected.</div>
</div>

</body></html>
